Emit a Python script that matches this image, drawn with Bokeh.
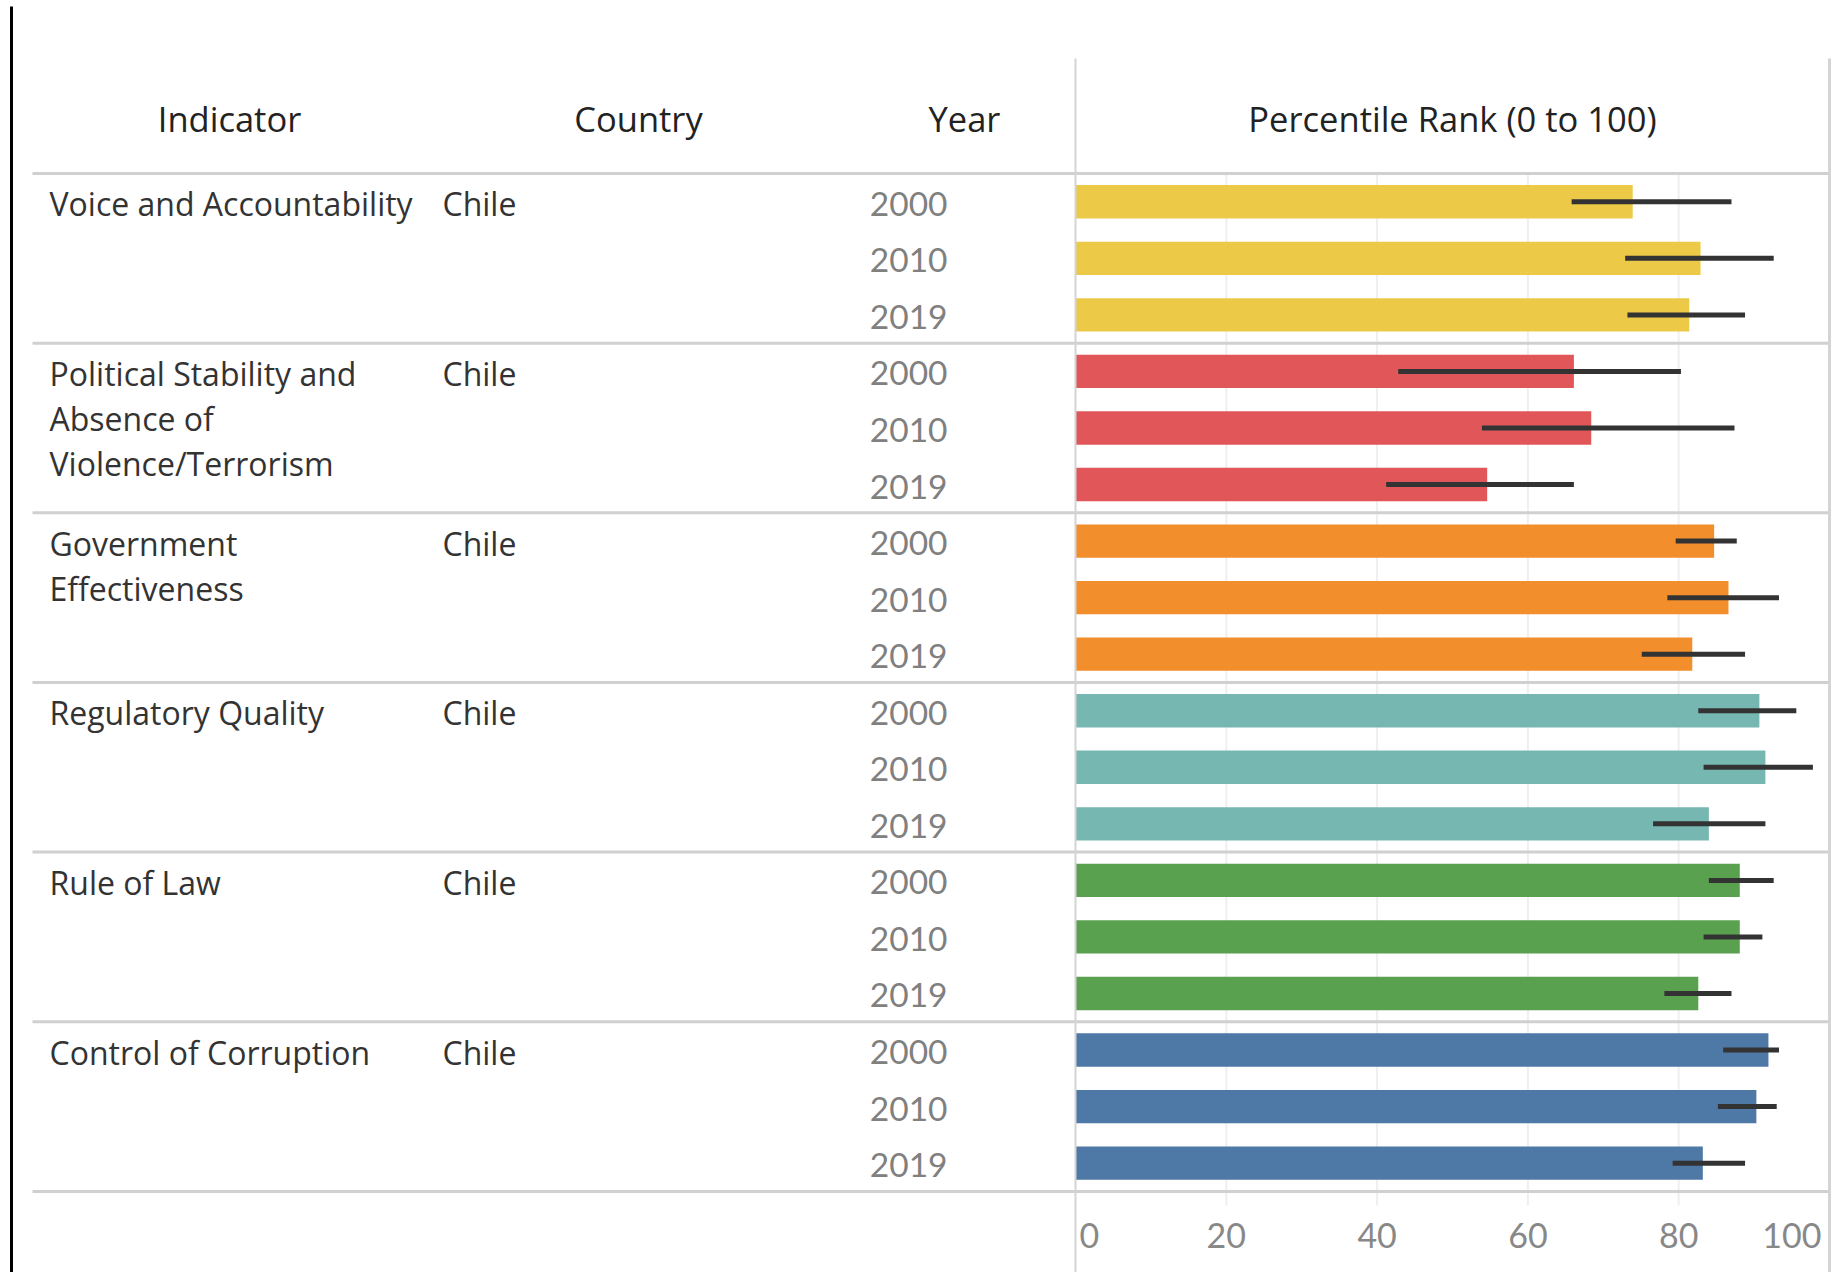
from bokeh.plotting import figure
from bokeh.models import Range1d, ColumnDataSource
from bokeh.embed import file_html
from bokeh.resources import INLINE
from bokeh.core.properties import value

# ---------------- data ----------------
indicators = ["Voice and Accountability",
              "Political Stability and Absence of Violence/Terrorism",
              "Government Effectiveness",
              "Regulatory Quality",
              "Rule of Law",
              "Control of Corruption"]
indicator_lines = [["Voice and Accountability"],
                   ["Political Stability and", "Absence of", "Violence/Terrorism"],
                   ["Government", "Effectiveness"],
                   ["Regulatory Quality"],
                   ["Rule of Law"],
                   ["Control of Corruption"]]
country = "Chile"
years = ["2000", "2010", "2019"]
rank = [[73.9, 82.9, 81.4],
        [66.1, 68.4, 54.6],
        [84.7, 86.6, 81.8],
        [90.7, 91.5, 84.0],
        [88.1, 88.1, 82.6],
        [91.9, 90.3, 83.2]]
lower = [[65.8, 72.9, 73.2],
         [42.8, 53.9, 41.2],
         [79.6, 78.5, 75.1],
         [82.6, 83.3, 76.6],
         [84.0, 83.3, 78.1],
         [85.9, 85.2, 79.2]]
upper = [[87.0, 92.6, 88.8],
         [80.3, 87.4, 66.1],
         [87.7, 93.3, 88.8],
         [95.6, 97.8, 91.5],
         [92.6, 91.1, 87.0],
         [93.3, 93.0, 88.8]]
colors = ["#EDC948", "#E15759", "#F28E2B", "#76B7B2", "#59A14F", "#4E79A7"]
headers = ["Indicator", "Country", "Year", "Percentile Rank (0 to 100)"]
ticks = [0, 20, 40, 60, 80, 100]

# ---------------- layout ----------------
W, H = 1832, 1272
X0_PX, PX_PER_UNIT = 1075.0, 7.54     # canvas px of value 0, px per percentile unit
Y0_PX, ROW_PX = 173.0, 56.55          # canvas px of header line, px per row


def px2x(px):
    return (px - X0_PX) / PX_PER_UNIT


def py2y(py):
    return (py - Y0_PX) / ROW_PX


p = figure(width=W, height=H, output_backend="svg", toolbar_location=None,
           x_range=Range1d(px2x(0), px2x(W)),
           y_range=Range1d(py2y(H), py2y(0)),
           min_border=0, min_border_left=0, min_border_right=0,
           min_border_top=0, min_border_bottom=0)
p.axis.visible = False
p.grid.visible = False
p.outline_line_color = None
p.background_fill_color = "white"
p.border_fill_color = "white"

FONT = value("Open Sans")
NUMFONT = value("Lato")
n_groups = len(indicators)
n_rows = n_groups * len(years)

# gridlines
grid_x = ticks[1:-1]
p.segment(x0=grid_x, x1=grid_x, y0=[0] * len(grid_x), y1=[py2y(1205)] * len(grid_x),
          line_color="#efefef", line_width=2)

# bars
rows_y, bar_r, lo, hi, bar_c = [], [], [], [], []
for g in range(n_groups):
    for k in range(len(years)):
        rows_y.append(g * len(years) + k + 0.5)
        bar_r.append(rank[g][k])
        lo.append(lower[g][k])
        hi.append(upper[g][k])
        bar_c.append(colors[g])
src = ColumnDataSource(dict(y=rows_y, right=bar_r, lo=lo, hi=hi, color=bar_c))
p.hbar(y="y", left=0, right="right", height=0.59, fill_color="color",
       line_color=None, source=src)
p.segment(x0="lo", x1="hi", y0="y", y1="y", line_color="#333333", line_width=5,
          line_cap="butt", source=src)

# separators
sep_y = [g * len(years) for g in range(n_groups + 1)]
p.segment(x0=[px2x(32)] * len(sep_y), x1=[100] * len(sep_y), y0=sep_y, y1=sep_y,
          line_color="#d0d0d0", line_width=3)

# plot borders
p.segment(x0=[0], x1=[0], y0=[py2y(58)], y1=[py2y(H)], line_color="#d4d4d4", line_width=2)
p.segment(x0=[100], x1=[100], y0=[py2y(58)], y1=[py2y(H)], line_color="#d4d4d4", line_width=3)

# black left rule
p.segment(x0=[px2x(11)], x1=[px2x(11)], y0=[py2y(6)], y1=[py2y(H)], line_color="black", line_width=3)

# headers
hdr_x = [px2x(229), px2x(638), px2x(964), 50]
p.text(x=hdr_x, y=[py2y(118)] * 4, text=headers, text_font=FONT, text_font_size="34.5px",
       text_color="#222222", text_align="center", text_baseline="middle")

# indicator labels
il_x, il_y, il_t = [], [], []
for g, lines in enumerate(indicator_lines):
    for j, t in enumerate(lines):
        il_x.append(px2x(49))
        il_y.append(g * len(years) + 0.5 + (2 + 45 * j) / ROW_PX)
        il_t.append(t)
p.text(x=il_x, y=il_y, text=il_t, text_font=FONT, text_font_size="32px",
       text_color="#333333", text_align="left", text_baseline="middle")

# country
p.text(x=[px2x(442)] * n_groups, y=[g * len(years) + 0.5 + 2 / ROW_PX for g in range(n_groups)],
       text=[country] * n_groups, text_font=FONT, text_font_size="32px",
       text_color="#333333", text_align="left", text_baseline="middle")

# years
p.text(x=[px2x(947)] * n_rows, y=[r + 2 / ROW_PX for r in rows_y],
       text=years * n_groups, text_font=NUMFONT, text_font_size="33.5px",
       text_color="#808080", text_align="right", text_baseline="middle")

# tick labels
ty = py2y(1235)
p.text(x=[ticks[0]], y=[ty], text=[str(ticks[0])], x_offset=4, text_font=NUMFONT,
       text_font_size="34px", text_color="#888888", text_align="left", text_baseline="middle")
mid = ticks[1:-1]
p.text(x=mid, y=[ty] * len(mid), text=[str(t) for t in mid], text_font=NUMFONT,
       text_font_size="34px", text_color="#888888", text_align="center", text_baseline="middle")
p.text(x=[ticks[-1]], y=[ty], text=[str(ticks[-1])], x_offset=-8, text_font=NUMFONT,
       text_font_size="34px", text_color="#888888", text_align="right", text_baseline="middle")

open("out.html", "w").write(file_html(p, INLINE))
